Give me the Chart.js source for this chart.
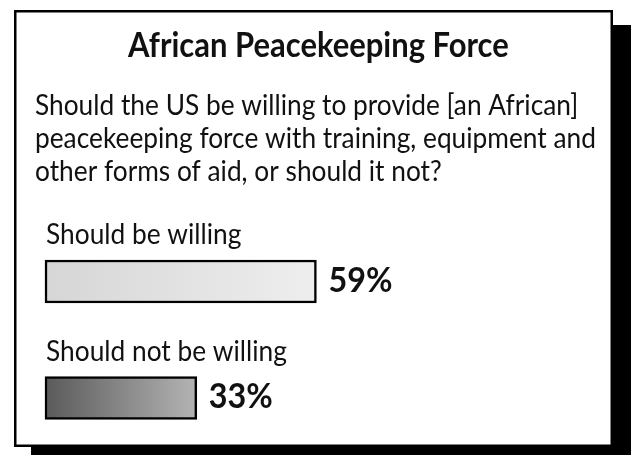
<!DOCTYPE html>
<html>
<head>
<meta charset="utf-8">
<script src="https://cdn.jsdelivr.net/npm/chart.js@4/dist/chart.umd.min.js"></script>
<style>
  html, body { margin: 0; padding: 0; background: #fff; }
  #wrap { width: 631px; height: 455px; }
</style>
</head>
<body>
<div id="wrap"><canvas id="c" width="631" height="455"></canvas></div>
<script>
const title = "African Peacekeeping Force";
const questionLines = [
  "Should the US be willing to provide [an African]",
  "peacekeeping force with training, equipment and",
  "other forms of aid, or should it not?"
];
const categories = ["Should be willing", "Should not be willing"];
const values = [59, 33];
const valueLabels = ["59%", "33%"];
const gradStart = ["#d6d6d6", "#5a5a5a"];
const gradEnd = ["#eeeeee", "#b4b4b4"];

const FAMILY = 'Lato, "Open Sans", sans-serif';
const CONDENSE = 0.92;

function fitFont(ctx, text, weight, targetWidth) {
  ctx.font = weight + ' 100px ' + FAMILY;
  const w = ctx.measureText(text).width;
  const size = 100 * targetWidth / (w * CONDENSE);
  return weight + ' ' + size.toFixed(2) + 'px ' + FAMILY;
}

function drawText(ctx, text, font, x, y) {
  ctx.save();
  ctx.font = font;
  ctx.translate(x, y);
  ctx.scale(CONDENSE, 1);
  ctx.fillText(text, 0, 0);
  ctx.restore();
}

const framePlugin = {
  id: 'frame',
  beforeDraw(chart) {
    const ctx = chart.ctx;
    ctx.save();
    ctx.fillStyle = '#ffffff';
    ctx.fillRect(0, 0, chart.width, chart.height);
    ctx.fillStyle = '#000000';
    ctx.fillRect(31, 25, 620, 450);
    ctx.fillStyle = '#ffffff';
    ctx.fillRect(14, 10, 599, 437);
    ctx.strokeStyle = '#000000';
    ctx.lineWidth = 2.5;
    ctx.strokeRect(15.25, 11.25, 596.5, 434.5);
    ctx.restore();
  }
};

const textPlugin = {
  id: 'texts',
  afterDatasetsDraw(chart) {
    const ctx = chart.ctx;
    ctx.save();
    ctx.fillStyle = '#111111';
    ctx.textBaseline = 'alphabetic';
    ctx.textAlign = 'left';
    drawText(ctx, title, fitFont(ctx, title, '700', 381), 128, 57);
    const qBase = [115, 148, 181];
    const qFont = fitFont(ctx, questionLines[1], '400', 561);
    questionLines.forEach((line, i) => {
      drawText(ctx, line, qFont, 35, qBase[i]);
    });
    const meta = chart.getDatasetMeta(0);
    const catFont = fitFont(ctx, categories[1], '400', 241);
    const valFont = fitFont(ctx, valueLabels[0], '700', 64);
    meta.data.forEach((bar, i) => {
      const top = bar.y - bar.height / 2;
      drawText(ctx, categories[i], catFont, bar.base + 1, top - 16);
      drawText(ctx, valueLabels[i], valFont, bar.x + 12, bar.y + 10);
    });
    ctx.restore();
  }
};

function barFill(context) {
  const chart = context.chart;
  const i = context.dataIndex;
  const area = chart.chartArea;
  if (i === undefined || !area) return gradStart[0];
  const xs = chart.scales.x;
  let x0 = xs ? xs.getPixelForValue(0) : NaN;
  let x1 = xs ? xs.getPixelForValue(values[i]) : NaN;
  if (!isFinite(x0) || !isFinite(x1) || x1 === x0) return gradStart[i];
  const g = chart.ctx.createLinearGradient(x0, 0, x1, 0);
  g.addColorStop(0, gradStart[i]);
  g.addColorStop(1, gradEnd[i]);
  return g;
}

new Chart(document.getElementById('c'), {
  type: 'bar',
  data: {
    labels: categories,
    datasets: [{
      data: values,
      clip: false,
      barThickness: 43,
      borderColor: '#000000',
      borderWidth: 2.5,
      borderSkipped: false,
      backgroundColor: barFill
    }]
  },
  options: {
    indexAxis: 'y',
    responsive: false,
    animation: false,
    layout: { padding: { left: 45, right: 126, top: 281.5, bottom: 57 } },
    scales: {
      x: { display: false, min: 0, max: 100 },
      y: { display: false, offset: false }
    },
    plugins: {
      legend: { display: false },
      tooltip: { enabled: false },
      title: { display: false }
    }
  },
  plugins: [framePlugin, textPlugin]
});
</script>
</body>
</html>
